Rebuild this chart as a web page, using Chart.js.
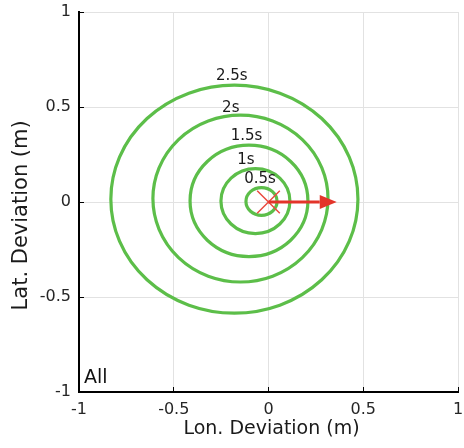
<!DOCTYPE html>
<html>
<head>
<meta charset="utf-8">
<script src="https://cdn.jsdelivr.net/npm/chart.js@4/dist/chart.umd.min.js"></script>
<style>
    html, body { margin: 0; padding: 0; background: #fff; }
</style>
</head>
<body>
<canvas id="chart" width="464" height="448"></canvas>
<script>
// Prediction horizons and the uncertainty ellipse for each one (metres)
const horizons = ['0.5s', '1s', '1.5s', '2s', '2.5s'];
const centerX = [-0.037, -0.069, -0.103, -0.148, -0.180];
const centerY = [0.003, 0.005, 0.006, 0.018, 0.015];
const radiusX = [0.082, 0.182, 0.311, 0.462, 0.652];
const radiusY = [0.073, 0.171, 0.293, 0.439, 0.600];

// where each horizon label sits (data units)
const labelX = [-0.045, -0.119, -0.116, -0.199, -0.194];
const labelY = [0.123, 0.219, 0.346, 0.496, 0.663];

// vehicle position and heading arrow
const originX = [0];
const originY = [0];
const arrowX = [0, 0.36];
const arrowY = [0, 0];

const axisTicks = [-1, -0.5, 0, 0.5, 1];

const FONT = "'DejaVu Sans', sans-serif";
const GREEN = '#5cbe49';
const RED = '#e3342a';

const ellipsePlugin = {
    id: 'ellipses',
    beforeDatasetsDraw(chart) {
        const ctx = chart.ctx;
        const xs = chart.scales.x;
        const ys = chart.scales.y;
        ctx.save();
        ctx.strokeStyle = GREEN;
        ctx.lineWidth = 3.2;
        for (let i = 0; i < horizons.length; i++) {
            const cx = xs.getPixelForValue(centerX[i]);
            const cy = ys.getPixelForValue(centerY[i]);
            const rx = Math.abs(xs.getPixelForValue(centerX[i] + radiusX[i]) - cx);
            const ry = Math.abs(ys.getPixelForValue(centerY[i] + radiusY[i]) - cy);
            ctx.beginPath();
            ctx.ellipse(cx, cy, rx, ry, 0, 0, Math.PI * 2);
            ctx.stroke();
        }
        ctx.fillStyle = '#1a1a1a';
        ctx.font = '15px ' + FONT;
        ctx.textAlign = 'center';
        ctx.textBaseline = 'middle';
        for (let i = 0; i < horizons.length; i++) {
            ctx.fillText(horizons[i], xs.getPixelForValue(labelX[i]), ys.getPixelForValue(labelY[i]));
        }
        ctx.restore();
    },
    afterDatasetsDraw(chart) {
        const ctx = chart.ctx;
        const xs = chart.scales.x;
        const ys = chart.scales.y;
        const x0 = xs.getPixelForValue(arrowX[0]);
        const y0 = ys.getPixelForValue(arrowY[0]);
        const x1 = xs.getPixelForValue(arrowX[1]);
        const y1 = ys.getPixelForValue(arrowY[1]);
        const ang = Math.atan2(y1 - y0, x1 - x0);
        const headLen = 17, headHalf = 7;
        ctx.save();
        ctx.strokeStyle = RED;
        ctx.fillStyle = RED;
        ctx.lineWidth = 3;
        ctx.beginPath();
        ctx.moveTo(x0, y0);
        ctx.lineTo(x1 - headLen * Math.cos(ang), y1 - headLen * Math.sin(ang));
        ctx.stroke();
        ctx.translate(x1, y1);
        ctx.rotate(ang);
        ctx.beginPath();
        ctx.moveTo(0, 0);
        ctx.lineTo(-headLen, -headHalf);
        ctx.lineTo(-headLen, headHalf);
        ctx.closePath();
        ctx.fill();
        ctx.restore();

        // panel tag
        ctx.save();
        ctx.fillStyle = '#111';
        ctx.font = '19px ' + FONT;
        ctx.textAlign = 'left';
        ctx.textBaseline = 'middle';
        ctx.fillText('All', chart.chartArea.left + 5, chart.chartArea.bottom - 14);
        ctx.restore();
    }
};

function axisOptions(title, titlePadding, titleSize, tickPadding, fitSize, horizontal) {
    return {
        type: 'linear',
        min: -1,
        max: 1,
        afterBuildTicks: (scale) => {
            scale.ticks = axisTicks.map(v => ({ value: v }));
        },
        afterFit: (scale) => {
            if (horizontal) scale.height = fitSize; else scale.width = fitSize;
            scale.paddingLeft = 0;
            scale.paddingRight = 0;
            scale.paddingTop = 0;
            scale.paddingBottom = 0;
        },
        ticks: {
            color: '#262626',
            font: { family: FONT, size: 16 },
            padding: tickPadding,
            maxRotation: 0,
            callback: (v) => String(v)
        },
        grid: {
            color: '#e2e2e2',
            lineWidth: 1,
            tickLength: -5,
            tickColor: '#000',
            tickWidth: 1
        },
        border: { color: '#000', width: 2 },
        title: {
            display: true,
            text: title,
            color: '#1a1a1a',
            font: { family: FONT, size: titleSize },
            padding: titlePadding
        }
    };
}

new Chart(document.getElementById('chart').getContext('2d'), {
    type: 'scatter',
    data: {
        datasets: [{
            label: 'origin',
            data: originX.map((x, i) => ({ x: x, y: originY[i] })),
            pointStyle: 'crossRot',
            pointRadius: 16,
            borderColor: '#ea4a40',
            borderWidth: 1.5,
            backgroundColor: 'rgba(0,0,0,0)'
        }]
    },
    options: {
        responsive: false,
        animation: false,
        layout: {
            autoPadding: false,
            padding: { top: 12, right: 6, left: 0, bottom: 0 }
        },
        plugins: {
            legend: { display: false },
            tooltip: { enabled: false }
        },
        scales: {
            // spaces nudge the titles a little off centre, as in the source figure
            x: axisOptions(' Lon. Deviation (m)', { top: 0, bottom: 8 }, 19, 13, 56, true),
            y: axisOptions('Lat. Deviation (m)    ', { top: 9, bottom: 0 }, 21, 13, 79, false)
        }
    },
    plugins: [ellipsePlugin]
});
</script>
</body>
</html>
